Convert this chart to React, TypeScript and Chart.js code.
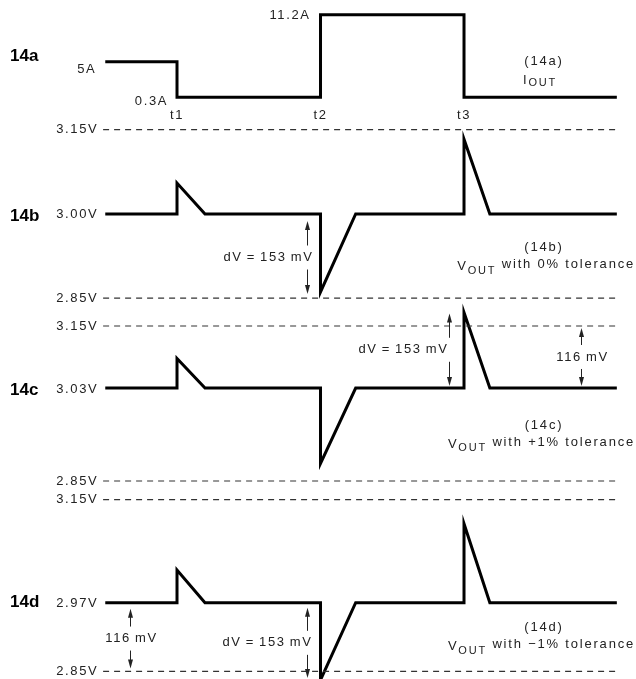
import React, { useEffect, useRef } from "react";
import { Chart, registerables } from "chart.js";

Chart.register(...registerables);

// ---- time marks (arbitrary time units) ----
const timeMarks = [1, 3, 5];
const timeLabels = ["t1", "t2", "t3"];

// ---- 14a : output current ----
const iTimes = [0, 1, 1, 3, 3, 5, 5, 7.13];
const iValues = [5, 5, 0.3, 0.3, 11.2, 11.2, 0.3, 0.3];
const iLevelLabels = ["5A", "0.3A", "11.2A"];
const iLevelValues = [5, 0.3, 11.2];

// ---- 14b/c/d : output voltage ----
const vTimes = [0, 1, 1, 1.39, 3, 3, 3.49, 5, 5, 5.36, 7.13];
const vOut0 = [3.0, 3.0, 3.055, 3.0, 3.0, 2.861, 3.0, 3.0, 3.133, 3.0, 3.0];
const vOutPlus1 = [3.03, 3.03, 3.087, 3.03, 3.03, 2.884, 3.03, 3.03, 3.176, 3.03, 3.03];
const vOutMinus1 = [2.97, 2.97, 3.027, 2.97, 2.97, 2.835, 2.97, 2.97, 3.108, 2.97, 2.97];

const limitTimes = [-0.03, 7.15];
const limitHigh = 3.15;
const limitLow = 2.85;
const limitLabels = ["3.15V", "2.85V"];

// ---- panel text ----
const panelIds = ["14a", "14b", "14c", "14d"];
const panelAxes = ["yA", "yB", "yC", "yD"];
const panelLevels = [5, 3.0, 3.03, 2.97];
const panelLevelLabels = ["5A", "3.00V", "3.03V", "2.97V"];
const captionIds = ["(14a)", "(14b)", "(14c)", "(14d)"];
const captionMain = ["I", "V", "V", "V"];
const captionRest = ["", "with 0% tolerance", "with +1% tolerance", "with \u22121% tolerance"];

// ---- dimension arrows ----
const arrowAxes = ["yB", "yC", "yC", "yD", "yD"];
const arrowTimes = [2.81, 4.795, 6.63, 0.345, 2.81];
const arrowTop = [3.0, 3.176, 3.15, 2.97, 2.97];
const arrowBottom = [2.85, 3.03, 3.03, 2.85, 2.835];
const arrowTexts = [
  "dV\u2009=\u2009153\u2009mV",
  "dV\u2009=\u2009153\u2009mV",
  "116\u2009mV",
  "116\u2009mV",
  "dV\u2009=\u2009153\u2009mV",
];

const MAIN_FONT = "13px 'Liberation Sans', Arial, sans-serif";
const SUB_FONT = "11px 'Liberation Sans', Arial, sans-serif";
const BOLD_FONT = "bold 17px 'Liberation Sans', Arial, sans-serif";
const TEXT_COLOR = "#222";

function pts(xs: number[], ys: number[]) {
  return xs.map((x, i) => ({ x, y: ys[i] }));
}

const annotationPlugin = {
  id: "schematicText",
  afterDraw(chart: any) {
    const ctx: CanvasRenderingContext2D = chart.ctx;
    const sx = chart.scales.x;
    const X = (t: number) => sx.getPixelForValue(t);
    const Y = (axis: string, v: number) => chart.scales[axis].getPixelForValue(v);
    ctx.save();
    ctx.fillStyle = TEXT_COLOR;
    ctx.strokeStyle = TEXT_COLOR;
    ctx.textBaseline = "middle";
    const spacing = (s: string) => ((ctx as any).letterSpacing = s);
    spacing("1.6px");
    ctx.font = MAIN_FONT;

    const text = (s: string, x: number, y: number, align: CanvasTextAlign) => {
      ctx.textAlign = align;
      ctx.fillText(s, x, y);
    };

    const xLabelRight = X(0) - 8;

    // panel ids and level labels
    const idDy = [-5, 2, 2, 0];
    panelIds.forEach((id, i) => {
      const yb = Y(panelAxes[i], panelLevels[i]);
      ctx.save();
      spacing("0px");
      ctx.font = BOLD_FONT;
      ctx.fillStyle = "#000";
      text(id, 10, yb + idDy[i], "left");
      ctx.restore();
      ctx.font = MAIN_FONT;
      if (i === 0) {
        text(panelLevelLabels[i], xLabelRight - 1, yb + 8, "right");
      } else {
        text(panelLevelLabels[i], xLabelRight + 1, yb + 1, "right");
      }
    });

    // current level labels
    text(iLevelLabels[1], X(1) - 9, Y("yA", iLevelValues[1]) + 4, "right");
    text(iLevelLabels[2], X(3) - 10, Y("yA", iLevelValues[2]) + 1, "right");

    // time labels
    timeMarks.forEach((t, i) => {
      text(timeLabels[i], X(t), Y("yA", 0.3) + 18, "center");
    });

    // limit labels
    ["yB", "yC", "yD"].forEach((ax) => {
      text(limitLabels[0], xLabelRight + 1, Y(ax, limitHigh), "right");
      text(limitLabels[1], xLabelRight + 1, Y(ax, limitLow), "right");
    });

    // captions
    spacing("1.8px");
    const capDy = [0, 34, 37, 25];
    const capX = X(6.115);
    captionIds.forEach((c, i) => {
      const yb = Y(panelAxes[i], panelLevels[i]) + capDy[i];
      ctx.font = MAIN_FONT;
      text(c, capX, yb, "center");
      const rowY = yb + (i === 0 ? 19 : 17);
      ctx.font = MAIN_FONT;
      const w1 = ctx.measureText(captionMain[i]).width;
      ctx.font = SUB_FONT;
      const w2 = ctx.measureText("OUT").width;
      ctx.font = MAIN_FONT;
      const rest = captionRest[i] ? " " + captionRest[i] : "";
      const w3 = rest ? ctx.measureText(rest).width : 0;
      const x0 = i === 0 ? capX - 21 : 635 - (w1 + w2 + w3);
      ctx.textAlign = "left";
      ctx.font = MAIN_FONT;
      ctx.fillText(captionMain[i], x0, rowY + (i === 0 ? 0 : 2));
      ctx.font = SUB_FONT;
      ctx.fillText("OUT", x0 + w1, rowY + (i === 0 ? 2 : 6));
      if (rest) {
        ctx.font = MAIN_FONT;
        ctx.fillText(rest, x0 + w1 + w2, rowY);
      }
    });
    spacing("1.6px");

    // arrows
    const topInset = [7, 1, 2, 6, 5];
    const botInset = [4, 2, 2, 3, 2];
    const textAlign: CanvasTextAlign[] = ["right", "right", "center", "center", "right"];
    const textDx = [6, -1, 1, 1, 5];
    const head = (x: number, y: number, dir: number) => {
      ctx.beginPath();
      ctx.moveTo(x, y);
      ctx.lineTo(x - 2.5, y + dir * 9);
      ctx.lineTo(x + 2.5, y + dir * 9);
      ctx.closePath();
      ctx.fill();
    };
    arrowTimes.forEach((t, i) => {
      const x = Math.round(X(t)) + 0.5;
      const yt = Y(arrowAxes[i], arrowTop[i]) + topInset[i];
      const ybt = Y(arrowAxes[i], arrowBottom[i]) - botInset[i];
      const mid = (yt + ybt) / 2;
      ctx.lineWidth = 1;
      ctx.beginPath();
      ctx.moveTo(x, yt + 4);
      ctx.lineTo(x, mid - 12);
      ctx.moveTo(x, mid + 12);
      ctx.lineTo(x, ybt - 4);
      ctx.stroke();
      head(x, yt, 1);
      head(x, ybt, -1);
      ctx.font = MAIN_FONT;
      text(arrowTexts[i], x + textDx[i], mid, textAlign[i]);
    });

    ctx.restore();
  },
};

export default function App() {
  const ref = useRef<HTMLCanvasElement | null>(null);
  useEffect(() => {
    if (!ref.current) return;
    const wave = (data: any, yAxisID: string) => ({
      data,
      yAxisID,
      borderColor: "#000",
      borderWidth: 3,
      borderJoinStyle: "miter" as const,
      borderCapStyle: "butt" as const,
      pointRadius: 0,
      tension: 0,
      fill: false,
    });
    const dashed = (v: number, yAxisID: string) => ({
      data: pts(limitTimes, [v, v]),
      yAxisID,
      borderColor: "#333",
      borderWidth: 1.2,
      borderDash: [6, 5],
      pointRadius: 0,
      fill: false,
    });
    const chart = new Chart(ref.current, {
      type: "line",
      data: {
        datasets: [
          wave(pts(iTimes, iValues), "yA"),
          dashed(limitHigh, "yB"),
          dashed(limitLow, "yB"),
          wave(pts(vTimes, vOut0), "yB"),
          dashed(limitHigh, "yC"),
          dashed(limitLow, "yC"),
          wave(pts(vTimes, vOutPlus1), "yC"),
          dashed(limitHigh, "yD"),
          dashed(limitLow, "yD"),
          wave(pts(vTimes, vOutMinus1), "yD"),
        ] as any,
      },
      options: {
        animation: false,
        responsive: false,
        devicePixelRatio: 1,
        layout: { padding: 0 },
        plugins: { legend: { display: false }, tooltip: { enabled: false } },
        scales: {
          x: { type: "linear", min: -1.467, max: 7.397, display: false, bounds: "data" },
          yA: { type: "linear", min: -76.46, max: 13.14, display: false, bounds: "data" },
          yB: { type: "linear", min: 2.1714, max: 3.3811, display: false, bounds: "data" },
          yC: { type: "linear", min: 2.4668, max: 3.7809, display: false, bounds: "data" },
          yD: { type: "linear", min: 2.8367, max: 4.0231, display: false, bounds: "data" },
        },
      } as any,
      plugins: [annotationPlugin],
    });
    return () => chart.destroy();
  }, []);
  return (
    <div style={{ position: "absolute", left: 0, top: 0, width: 636, height: 679, background: "#fff" }}>
      <canvas ref={ref} width={636} height={679} style={{ display: "block" }} />
    </div>
  );
}
